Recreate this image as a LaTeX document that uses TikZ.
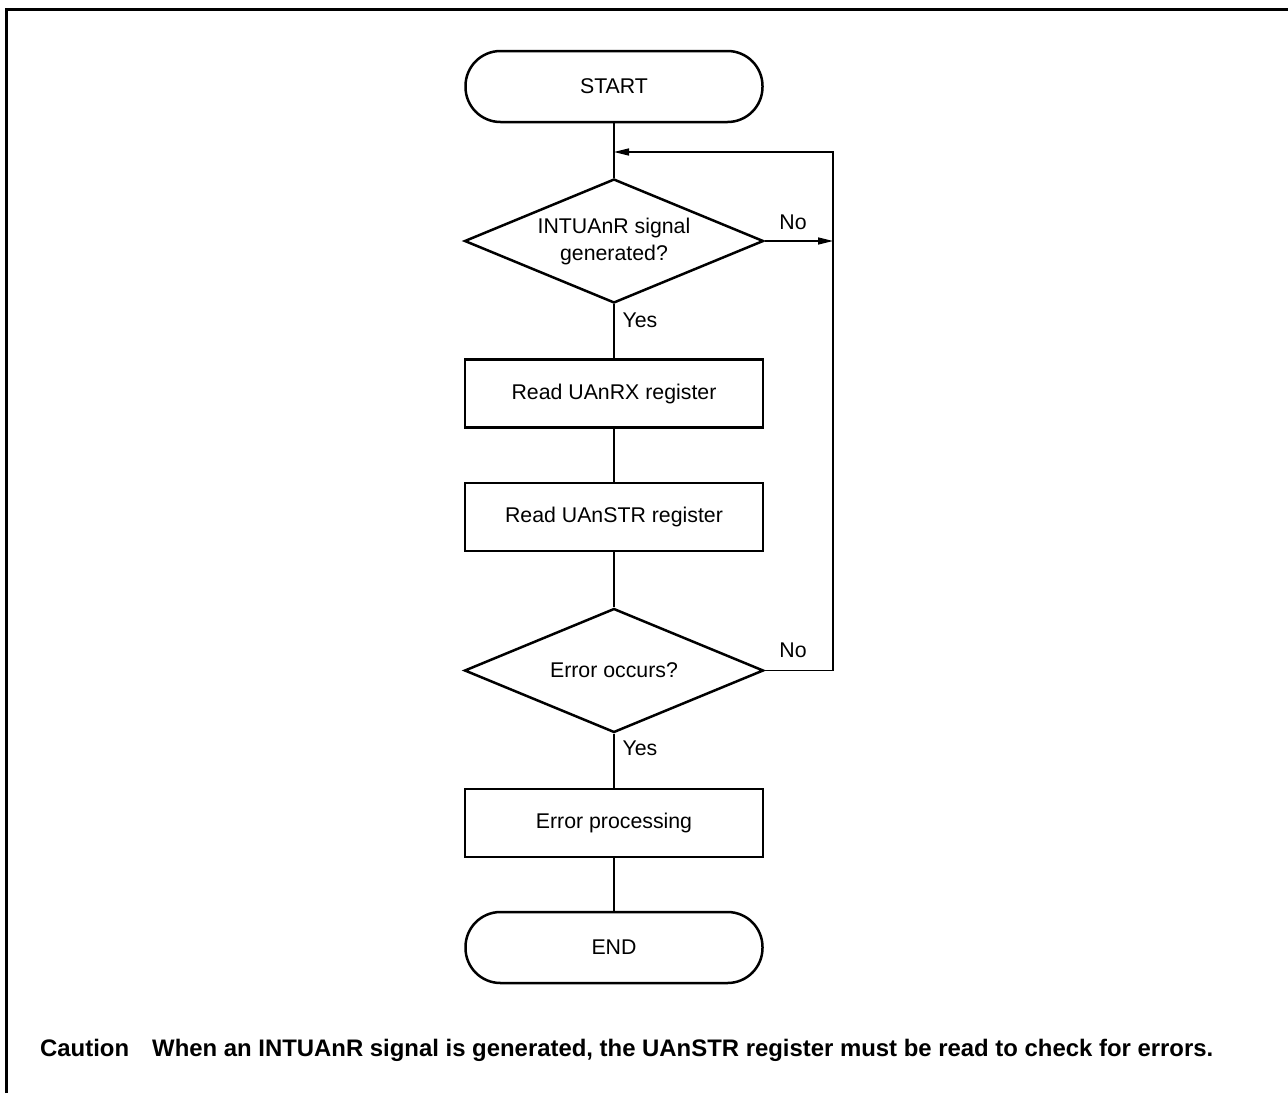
\documentclass[tikz,border=0pt]{standalone}
\usepackage{fontspec}
\setmainfont{Liberation Sans}
\usetikzlibrary{shapes.geometric,arrows.meta}
\begin{document}
\begin{tikzpicture}[x=1pt,y=-1pt,
  every node/.style={font=\fontsize{21.3}{27}\selectfont},
  term/.style={draw,line width=2.5pt,rounded corners=35pt,minimum width=297pt,minimum height=71pt,inner sep=0pt},
  proc/.style={draw,line width=2.5pt,minimum width=298pt,minimum height=68pt,inner sep=0pt},
  decis/.style={draw,diamond,aspect=2.41,line width=2.5pt,minimum width=299pt,minimum height=124pt,inner sep=0pt,align=center},
  conn/.style={line width=1.4pt},
  arr/.style={conn,-{Triangle[length=15pt,width=7pt]}},
  lbl/.style={inner sep=0pt},
  pageframe/.style={line width=3pt},
  cautfont/.style={inner sep=0pt,anchor=base west,font=\bfseries\fontsize{23.9}{28}\selectfont}]
\useasboundingbox (0,0) rectangle (1288,1093);
\draw[pageframe] (6.3,1093) -- (6.3,9.7) -- (1288,9.7);

\node[term] (start) at (614,86.5) {START};
\node[decis] (d1) at (614,241) {INTUAnR signal\\generated?};
\node[proc] (p1) at (614,393.5) {Read UAnRX register};
\node[proc] (p2) at (614,517) {Read UAnSTR register};
\node[decis] (d2) at (614,670.5) {Error occurs?};
\node[proc] (p3) at (614,823) {Error processing};
\node[term] (end) at (614,947.5) {END};

\coordinate (r1) at (833,241);
\coordinate (r2) at (833,670.5);
\coordinate (rtop) at (833,152);
\coordinate (join) at (614,152);

\draw[conn] (start) -- (d1);
\draw[conn] (d1) -- (p1);
\draw[conn] (p1) -- (p2);
\draw[conn] (p2) -- (d2);
\draw[conn] (d2) -- (p3);
\draw[conn] (p3) -- (end);
\draw[arr] (d1.east) -- (r1);
\draw[arr] (d2.east) -- (r2) -- (rtop) -- (join);

\node[lbl] (no1) at (793,222) {No};
\node[lbl] (yes1) at (640,320) {Yes};
\node[lbl] (no2) at (793,650) {No};
\node[lbl] (yes2) at (640,748) {Yes};

\node[cautfont] (caut) at (40,1056) {Caution};
\node[cautfont] (ctext) at (152,1056) {When an INTUAnR signal is generated, the UAnSTR register must be read to check for errors.};
\end{tikzpicture}
\end{document}
